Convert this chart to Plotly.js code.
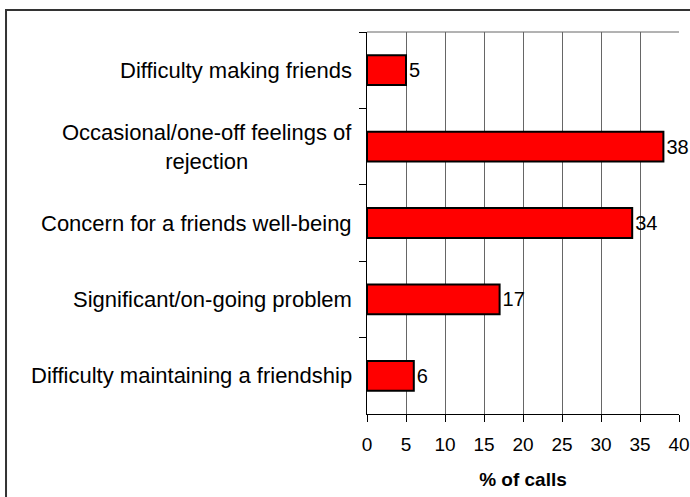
<!DOCTYPE html>
<html>
<head>
<meta charset="utf-8">
<script src="https://cdn.plot.ly/plotly-3.0.1.min.js"></script>
<style>
html,body{margin:0;padding:0;background:#fff;}
#chart{width:690px;height:497px;}
</style>
</head>
<body>
<div id="chart"></div>
<script>
const categories = [
  "Difficulty making friends",
  "Occasional/one-off feelings of<br>rejection",
  "Concern for a friends well-being",
  "Significant/on-going problem",
  "Difficulty maintaining a friendship"
];
const values = [5, 38, 34, 17, 6];
const xTickValues = [0, 5, 10, 15, 20, 25, 30, 35, 40];
const xTitle = "% of calls";

const FONT = "Liberation Sans, Arial, sans-serif";

const trace = {
  type: "bar",
  orientation: "h",
  y: categories,
  x: values,
  width: 0.39,
  marker: {color: "#FF0000", line: {color: "#000000", width: 2}},
  text: values.map(String),
  textposition: "outside",
  textfont: {family: FONT, size: 20, color: "#000"},
  cliponaxis: false,
  hoverinfo: "none"
};

const annotations = categories.map(c => ({
  xref: "paper", yref: "y",
  x: 0, y: c,
  xshift: -13,
  xanchor: "right", yanchor: "middle",
  align: "center",
  text: c,
  showarrow: false,
  font: {family: FONT, size: 22, color: "#000"}
}));

const layout = {
  width: 690, height: 497,
  margin: {l: 367, r: 11, t: 32, b: 83},
  paper_bgcolor: "#fff",
  plot_bgcolor: "#fff",
  showlegend: false,
  font: {family: FONT, color: "#000"},
  xaxis: {
    range: [0, 40],
    tickvals: xTickValues,
    ticktext: xTickValues.map(String),
    showgrid: true,
    gridcolor: "#666",
    gridwidth: 1,
    zeroline: false,
    showline: true,
    linecolor: "#000",
    linewidth: 1,
    ticks: "outside",
    ticklen: 7,
    tickcolor: "#000",
    ticklabelstandoff: 6,
    ticklabeloverflow: "allow",
    tickfont: {family: FONT, size: 19, color: "#000"},
    title: {text: xTitle, font: {family: FONT, size: 19, color: "#000", weight: "bold"}, standoff: 18},
    fixedrange: true
  },
  yaxis: {
    type: "category",
    autorange: "reversed",
    showticklabels: false,
    showgrid: false,
    zeroline: false,
    showline: true,
    linecolor: "#000",
    linewidth: 1,
    ticks: "outside",
    tickson: "boundaries",
    ticklen: 7,
    tickcolor: "#000",
    fixedrange: true
  },
  annotations: annotations,
  shapes: [
    {type: "line", xref: "paper", yref: "paper", x0: 0, x1: 1, y0: 1, y1: 1,
     line: {color: "#666", width: 1}},
    {type: "rect", xref: "paper", yref: "paper",
     x0: -1.157, x1: 1.2, y0: -0.4, y1: 1.0576,
     line: {color: "#333", width: 2}, fillcolor: "rgba(0,0,0,0)", layer: "below"}
  ]
};

Plotly.newPlot("chart", [trace], layout, {displayModeBar: false, staticPlot: true});
</script>
</body>
</html>
